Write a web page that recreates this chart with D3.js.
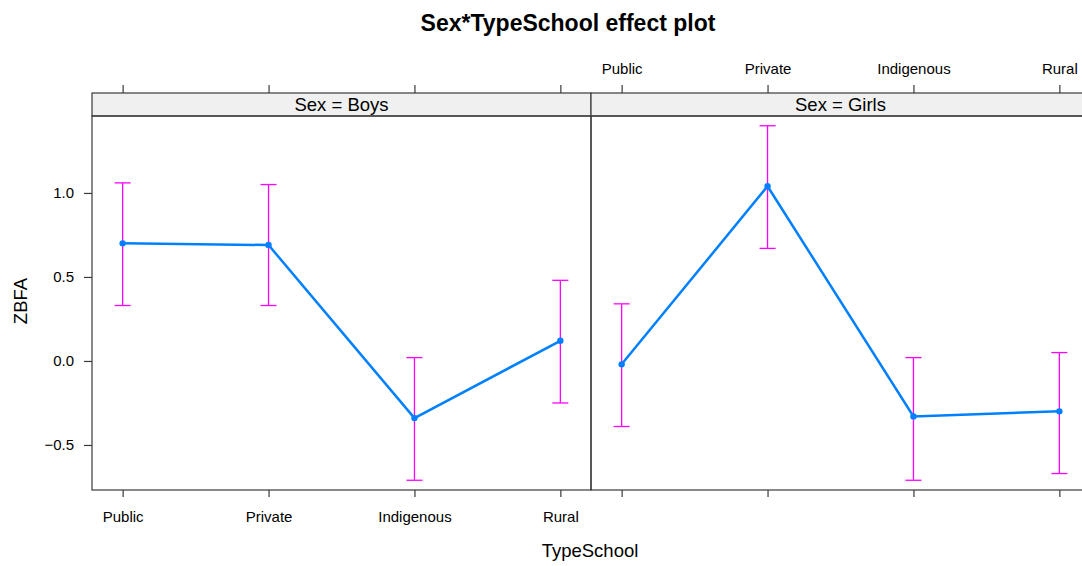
<!DOCTYPE html>
<html>
<head>
<meta charset="utf-8">
<script src="https://cdn.jsdelivr.net/npm/d3@7"></script>
<style>
  body { margin: 0; background: #fff; }
  text { font-family: "Liberation Sans", Arial, sans-serif; }
</style>
</head>
<body>
<div id="graf"></div>
<script>
// Datos
tipos = ['Public', 'Private', 'Indigenous', 'Rural']
sexos = ['Boys', 'Girls']
fitBoys   = [0.70, 0.69, -0.34, 0.12]
lowerBoys = [0.33, 0.33, -0.71, -0.25]
upperBoys = [1.06, 1.05, 0.02, 0.48]
fitGirls   = [-0.02, 1.04, -0.33, -0.30]
lowerGirls = [-0.39, 0.67, -0.71, -0.67]
upperGirls = [0.34, 1.40, 0.02, 0.05]
yTicks = [-0.5, 0.0, 0.5, 1.0]

series = {
  Boys:  { fit: fitBoys,  lower: lowerBoys,  upper: upperBoys },
  Girls: { fit: fitGirls, lower: lowerGirls, upper: upperGirls }
}

// Configuración
ancho_total = 1082
alto_total = 566
panel = { left: 92, top: 116, width: 499, height: 374, strip: 23 }

svg = d3.select('#graf').append('svg')
        .attr('width', ancho_total)
        .attr('height', alto_total)

y = d3.scaleLinear()
      .domain([-0.768, 1.458])
      .range([panel.top + panel.height, panel.top])

frameColor = '#3a3a3a'

// Título
svg.append('text')
   .attr('x', 568).attr('y', 31)
   .attr('text-anchor', 'middle')
   .style('font-size', '23px').style('font-weight', 'bold')
   .text('Sex*TypeSchool effect plot')

sexos.forEach((s, i) => {
  const x0 = panel.left + i * panel.width
  const x = d3.scalePoint()
        .domain(tipos)
        .range([x0, x0 + panel.width])
        .padding(0.21)

  // strip
  svg.append('rect')
     .attr('x', x0).attr('y', panel.top - panel.strip)
     .attr('width', panel.width).attr('height', panel.strip)
     .attr('fill', '#f0f0f0').attr('stroke', frameColor).attr('stroke-width', 1.2)
  svg.append('text')
     .attr('x', x0 + panel.width / 2).attr('y', panel.top - 5)
     .attr('text-anchor', 'middle')
     .style('font-size', '18.5px')
     .text('Sex = ' + s)

  // panel
  svg.append('rect')
     .attr('x', x0).attr('y', panel.top)
     .attr('width', panel.width).attr('height', panel.height)
     .attr('fill', 'none').attr('stroke', frameColor).attr('stroke-width', 1.2)

  // eje x: abajo en el primer panel, arriba en el segundo; marcas en ambos
  const ejeAbajo = svg.append('g')
    .attr('transform', `translate(0, ${panel.top + panel.height})`)
    .call(d3.axisBottom(x).tickSize(7).tickPadding(14).tickFormat(i == 0 ? null : ''))
  const ejeArriba = svg.append('g')
    .attr('transform', `translate(0, ${panel.top - panel.strip})`)
    .call(d3.axisTop(x).tickSize(8).tickPadding(11).tickFormat(i == 1 ? null : ''))
  ;[ejeAbajo, ejeArriba].forEach(a => {
    a.select('.domain').remove()
    a.selectAll('line').attr('stroke', frameColor).attr('stroke-width', 1.2)
    a.selectAll('text').style('font-size', '15px').attr('fill', '#000')
  })

  const d = series[s]
  const pts = tipos.map((t, j) => ({ t: t, fit: d.fit[j], lo: d.lower[j], hi: d.upper[j] }))

  const g = svg.append('g')
  // barras de error
  g.selectAll('.ci').data(pts).enter().append('line')
   .attr('x1', p => x(p.t)).attr('x2', p => x(p.t))
   .attr('y1', p => y(p.lo)).attr('y2', p => y(p.hi))
   .attr('stroke', '#ff00ff').attr('stroke-width', 1.3)
  ;['lo', 'hi'].forEach(k => {
    g.selectAll('.cap' + k).data(pts).enter().append('line')
     .attr('x1', p => x(p.t) - 8).attr('x2', p => x(p.t) + 8)
     .attr('y1', p => y(p[k])).attr('y2', p => y(p[k]))
     .attr('stroke', '#ff00ff').attr('stroke-width', 1.3)
  })

  // línea
  g.append('path')
   .datum(pts)
   .attr('d', d3.line().x(p => x(p.t)).y(p => y(p.fit)))
   .attr('fill', 'none').attr('stroke', '#0080ff').attr('stroke-width', 2.5)
  g.selectAll('circle').data(pts).enter().append('circle')
   .attr('cx', p => x(p.t)).attr('cy', p => y(p.fit)).attr('r', 3.2)
   .attr('fill', '#0080ff')
})

// eje y
yAxis = svg.append('g')
  .attr('transform', `translate(${panel.left}, 0)`)
  .call(d3.axisLeft(y).tickValues(yTicks).tickSize(8).tickPadding(10).tickFormat(d3.format('.1f')))
yAxis.select('.domain').remove()
yAxis.selectAll('line').attr('stroke', frameColor).attr('stroke-width', 1.2)
yAxis.selectAll('text').style('font-size', '15px').attr('fill', '#000')

// etiquetas de ejes
svg.append('text')
   .attr('x', 590).attr('y', 557)
   .attr('text-anchor', 'middle')
   .style('font-size', '18.5px')
   .text('TypeSchool')
svg.append('text')
   .attr('transform', `translate(27, ${panel.top + panel.height / 2 - 2}) rotate(-90)`)
   .attr('text-anchor', 'middle')
   .style('font-size', '18.5px')
   .text('ZBFA')
</script>
</body>
</html>
